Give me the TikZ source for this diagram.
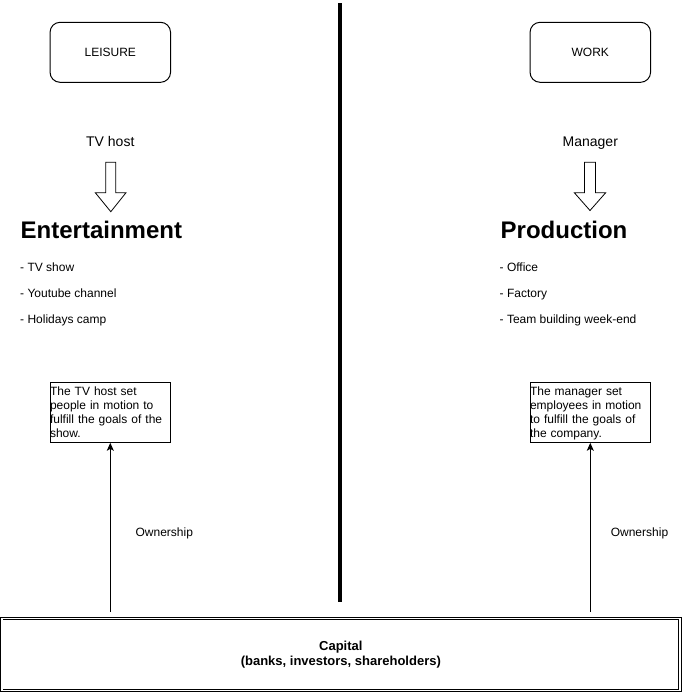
\documentclass[tikz,border=0pt]{standalone}
\usepackage{fontspec}
\setmainfont{Liberation Sans}
\usetikzlibrary{arrows.meta,calc}
\begin{document}
\begin{tikzpicture}[x=1pt,y=-1pt,
  roundbox/.style={draw,line width=1pt,rounded corners=10pt,minimum width=120.5pt,minimum height=60pt,inner sep=0pt,font=\fontsize{12}{14}\selectfont},
  lbl/.style={inner sep=0pt,anchor=base,font=\fontsize{14}{16}\selectfont},
  heading/.style={inner sep=0pt,anchor=base west,font=\fontsize{24}{28}\selectfont\bfseries},
  item/.style={inner sep=0pt,anchor=base west,font=\fontsize{12}{14}\selectfont},
  notebox/.style={draw,line width=1pt,text width=120.5pt,text height=12.7pt,text depth=47.3pt,inner sep=0pt,align=left,font=\fontsize{12}{14}\selectfont},
  blockarrow/.style={draw,line width=0.8pt,fill=white},
  conn/.style={line width=1pt,-{Stealth[length=8pt,width=7pt,inset=2pt]},shorten <=6pt},
  ownlbl/.style={inner sep=0pt,anchor=base,font=\fontsize{12}{14}\selectfont},
]
\useasboundingbox (0,0) rectangle (687,694);
\fill[white] (0,0) rectangle (687,694);

% divider
\draw[line width=4pt] (339.7,3) coordinate (divtop) -- (339.7,601.5) coordinate (divbot);

% top boxes
\node[roundbox] (leisure) at (110.3,52.3) {LEISURE};
\node[roundbox] (work) at (590.3,52.3) {WORK};

% role labels
\node[lbl] (tvhost) at (110.3,146.7) {TV host};
\node[lbl] (manager) at (590.3,146.7) {Manager};

% block arrows
\draw[blockarrow] (105.8,162.3) -- (115.8,162.3) -- (115.8,192.7) -- (126,192.7) -- (110.8,211.7) -- (95.3,192.7) -- (105.8,192.7) -- cycle;
\draw[blockarrow] (584.5,162.3) -- (595.5,162.3) -- (595.5,192.7) -- (605.7,192.7) -- (590,210.5) -- (574.3,192.7) -- (584.5,192.7) -- cycle;

% headings
\node[heading] (ent) at (20.5,238.3) {Entertainment};
\node[heading] (prod) at (500.5,238.3) {Production};

% lists
\node[item] (l1) at (20,271.7) {- TV show};
\node[item] (l2) at (20,297.7) {- Youtube channel};
\node[item] (l3) at (20,323.7) {- Holidays camp};
\node[item] (r1) at (499.5,271.7) {- Office};
\node[item] (r2) at (499.5,297.7) {- Factory};
\node[item] (r3) at (499.5,323.7) {- Team building week-end};

% note boxes
\node[notebox] (lnote) at (110.3,412.3) {The TV host set\\people in motion to\\fulfill the goals of the\\show.};
\node[notebox] (rnote) at (590.3,412.3) {The manager set\\employees in motion\\to fulfill the goals of\\the company.};

% capital
\node[draw,line width=0.9pt,double,double distance=1.6pt,minimum width=678.3pt,minimum height=72pt,inner sep=0pt,align=center,font=\fontsize{13}{16}\selectfont\bfseries] (capital) at (340.85,654.5) {\rule{0pt}{0pt}\raisebox{-1pt}{Capital}\\(banks, investors, shareholders)};

% connectors
\draw[conn] (capital.north -| lnote.south) -- (lnote.south);
\draw[conn] (capital.north -| rnote.south) -- (rnote.south);

\node[ownlbl] (own1) at (164.3,536) {Ownership};
\node[ownlbl] (own2) at (639.5,536) {Ownership};
\end{tikzpicture}
\end{document}
